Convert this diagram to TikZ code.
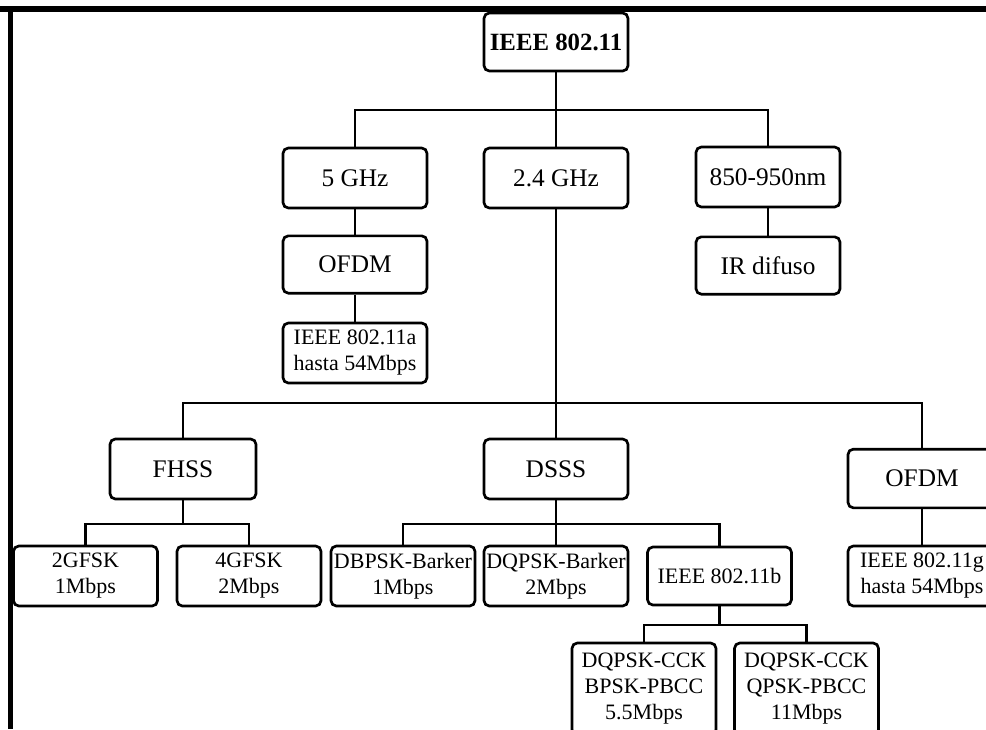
\documentclass[tikz,border=0pt]{standalone}
\usepackage{fontspec}
\setmainfont{Liberation Serif}

\tikzset{
    box/.style={draw, line width=2pt, rounded corners=4pt, inner sep=0pt,
        minimum width=108pt, minimum height=45pt, align=center,
        font=\fontsize{19}{22}\selectfont},
    smallbox/.style={box, font=\fontsize{16.5}{19.5}\selectfont},
    link/.style={line width=1.6pt}
}

\begin{document}
\begin{tikzpicture}[x=0.75pt, y=-0.75pt]
    \useasboundingbox (0,0) rectangle (986,729);
    \clip (0,0) rectangle (986,729);

    % Frame
    \fill (0,6) rectangle (986,12);
    \fill (8,6) rectangle (13,729);

    % Top level
    \node[box, minimum height=43.5pt, font=\fontsize{18.6}{22}\selectfont\bfseries] (root) at (556,42) {IEEE 802.11};
    \node[box] (ghz5) at (355,178) {5 GHz};
    \node[box] (ghz24) at (556,178) {2.4 GHz};
    \node[box] (nm) at (768,177) {850-950nm};
    \node[box, minimum height=43pt] (ofdmA) at (355,264.5) {OFDM};
    \node[box, minimum height=43pt] (ir) at (768,265.5) {IR difuso};
    \node[smallbox] (dotA) at (355,353) {IEEE 802.11a\\hasta 54Mbps};

    \draw[link] (root.south) -- ++(0,38) -| (ghz5.north);
    \draw[link] (root.south) -- ++(0,38) -| (nm.north);
    \draw[link] (root.south) -- (ghz24.north);
    \draw[link] (ghz5) -- (ofdmA);
    \draw[link] (ofdmA) -- (dotA);
    \draw[link] (nm) -- (ir);

    % 2.4 GHz branch
    \node[box, minimum width=109.5pt] (fhss) at (183,469) {FHSS};
    \node[box] (dsss) at (556,469) {DSSS};
    \node[box, minimum width=111pt, minimum height=44pt] (ofdmG) at (922,478.5) {OFDM};

    \draw[link] (ghz24.south) -- ++(0,194) -| (fhss.north);
    \draw[link] (ghz24.south) -- ++(0,194) -| (ofdmG.north);
    \draw[link] (ghz24.south) -- (dsss.north);

    % Modulations
    \node[smallbox] (gfsk2) at (85.5,576) {2GFSK\\1Mbps};
    \node[smallbox] (gfsk4) at (249,576) {4GFSK\\2Mbps};
    \node[smallbox] (dbpsk) at (403,576) {DBPSK-Barker\\1Mbps};
    \node[smallbox] (dqpsk) at (556,576) {DQPSK-Barker\\2Mbps};
    \node[smallbox, minimum height=43.5pt] (dotB) at (719.5,576) {IEEE 802.11b};
    \node[smallbox, minimum width=111pt] (dotG) at (922,576) {IEEE 802.11g\\hasta 54Mbps};

    \draw[link] (fhss.south) -- ++(0,24) -| (gfsk2.north);
    \draw[link] (fhss.south) -- ++(0,24) -| (gfsk4.north);
    \draw[link] (dsss.south) -- ++(0,24) -| (dbpsk.north);
    \draw[link] (dsss.south) -- ++(0,24) -| (dotB.north);
    \draw[link] (dsss.south) -- (dqpsk.north);
    \draw[link] (ofdmG) -- (dotG);

    % 802.11b rates
    \node[smallbox, minimum height=69pt] (cckA) at (644,689) {DQPSK-CCK\\BPSK-PBCC\\5.5Mbps};
    \node[smallbox, minimum height=69pt] (cckB) at (806.5,689) {DQPSK-CCK\\QPSK-PBCC\\11Mbps};

    \draw[link] (dotB.south) -- ++(0,19) -| (cckA.north);
    \draw[link] (dotB.south) -- ++(0,19) -| (cckB.north);
\end{tikzpicture}
\end{document}
